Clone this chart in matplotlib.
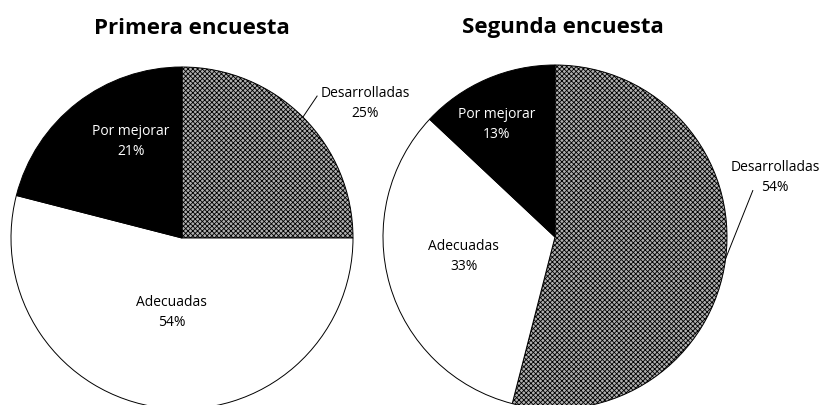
import numpy as np
import matplotlib
matplotlib.use('Agg')
import matplotlib.pyplot as plt

# survey results (percent)
categories = ['Desarrolladas', 'Adecuadas', 'Por mejorar']
titles = ['Primera encuesta', 'Segunda encuesta']
primera = [25, 54, 21]
segunda = [54, 33, 13]

# label placement in pie data coords (x, y), same order as categories
label_pos = [
    [(1.07, 0.79), (-0.06, -0.43), (-0.30, 0.57)],
    [(1.28, 0.35), (-0.53, -0.11), (-0.34, 0.66)],
]
leader_end = [(0.79, 0.83), (1.15, 0.27)]

plt.rcParams['font.family'] = ['Open Sans', 'DejaVu Sans']
plt.rcParams['hatch.linewidth'] = 0.6

fig = plt.figure(figsize=(8.23, 4.06), dpi=100)
W, H = 823, 406
centers = [(182, 239, 171), (555, 238, 172)]
title_x = [192, 563]

for k, values in enumerate([primera, segunda]):
    cx, cy, r = centers[k]
    ax = fig.add_axes([(cx - r) / W, (H - cy - r) / H, 2 * r / W, 2 * r / H])
    wedges, _ = ax.pie(values, startangle=90, counterclock=False,
                       colors=['#b0b0b0', 'white', 'black'],
                       wedgeprops=dict(edgecolor='black', linewidth=0.7))
    wedges[0].set_hatch('xxxxxxx')
    ax.set_xlim(-1, 1)
    ax.set_ylim(-1, 1)
    ax.axis('off')

    for i, w in enumerate(wedges):
        lx, ly = label_pos[k][i]
        color = 'white' if i == 2 else 'black'
        ax.text(lx, ly, f'{categories[i]}\n{values[i]}%', ha='center', va='center',
                fontsize=10, color=color, linespacing=1.45, clip_on=False)
        if i == 0:
            mid = np.deg2rad((w.theta1 + w.theta2) / 2)
            ex, ey = leader_end[k]
            ax.plot([np.cos(mid), ex], [np.sin(mid), ey], color='black',
                    linewidth=0.7, clip_on=False)

    fig.text(title_x[k] / W, 1 - 28 / H, titles[k], ha='center', va='center',
             fontsize=16, fontweight='bold')

fig.savefig('out.png', dpi=100)
